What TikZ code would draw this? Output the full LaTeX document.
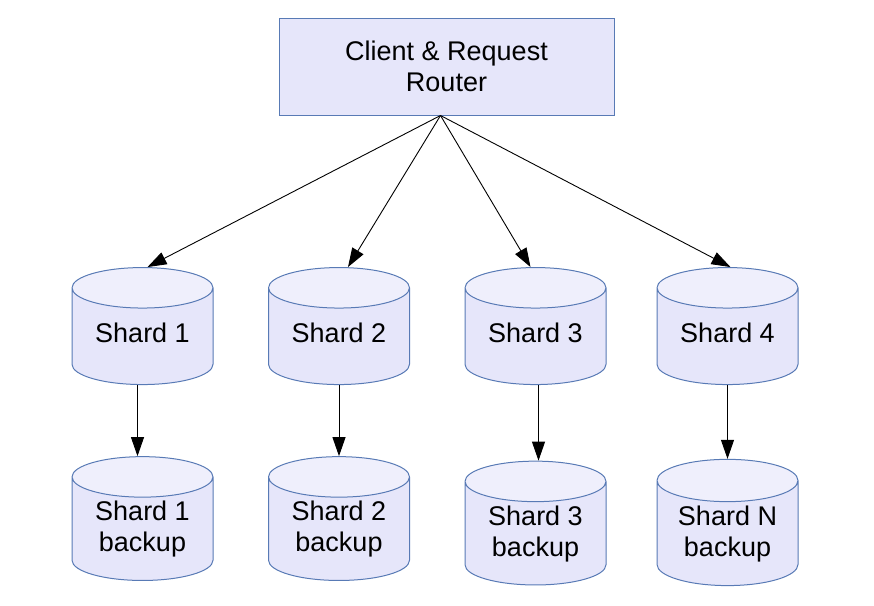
\documentclass[tikz,border=0pt]{standalone}
\usepackage{fontspec}
\setmainfont{Liberation Sans}
\usetikzlibrary{shapes.geometric,arrows.meta}

\definecolor{boxfill}{RGB}{230,230,250}
\definecolor{endfill}{RGB}{239,239,252}
\definecolor{boxline}{RGB}{88,122,181}

\begin{document}
\begin{tikzpicture}[x=1pt, y=-1pt,
	every node/.style={draw=boxline, line width=1pt, align=center, font=\fontsize{27}{31}\selectfont},
	shard/.style={cylinder, shape border rotate=90, aspect=0.4, minimum width=141pt, minimum height=117pt,
		cylinder uses custom fill, cylinder body fill=boxfill, cylinder end fill=endfill, text depth=13pt},
	backup/.style={shard, text depth=11.5pt},
	arr/.style={-{Triangle[length=19pt, width=13pt]}, line width=0.9pt, black}]

	\useasboundingbox (0,0) rectangle (874,605);

	\node[fill=boxfill, minimum width=335pt, minimum height=97pt] (router) at(446.5,66.5) {Client \& Request\\Router};

	\node[shard] (s1) at(142.5,339.5) {Shard 1};
	\node[shard] (s2) at(339,339.5) {Shard 2};
	\node[shard] (s3) at(535.5,339.5) {Shard 3};
	\node[shard] (s4) at(727.5,339.5) {Shard 4};

	\node[backup] (b1) at(142.5,532) {Shard 1\\backup};
	\node[backup] (b2) at(339,532) {Shard 2\\backup};
	\node[backup] (b3) at(535.5,536.5) {Shard 3\\backup};
	\node[backup] (b4) at(727.5,536.5) {Shard N\\backup};

\coordinate (hub) at ([xshift=-6pt]router.south);
\draw[arr] (hub) -- ([xshift=5pt]s1.north);
\draw[arr] (hub) -- ([xshift=9pt]s2.north);
\draw[arr] (hub) -- ([xshift=-5pt]s3.north);
\draw[arr] (hub) -- ([xshift=3pt]s4.north);

\draw[arr] ([xshift=-5pt]s1.south) -- ([xshift=-5pt]b1.north);
\draw[arr] (s2.south) -- (b2.north);
\draw[arr] ([xshift=3pt]s3.south) -- ([xshift=3pt]b3.north);
\draw[arr] (s4.south) -- (b4.north);
\end{tikzpicture}
\end{document}
